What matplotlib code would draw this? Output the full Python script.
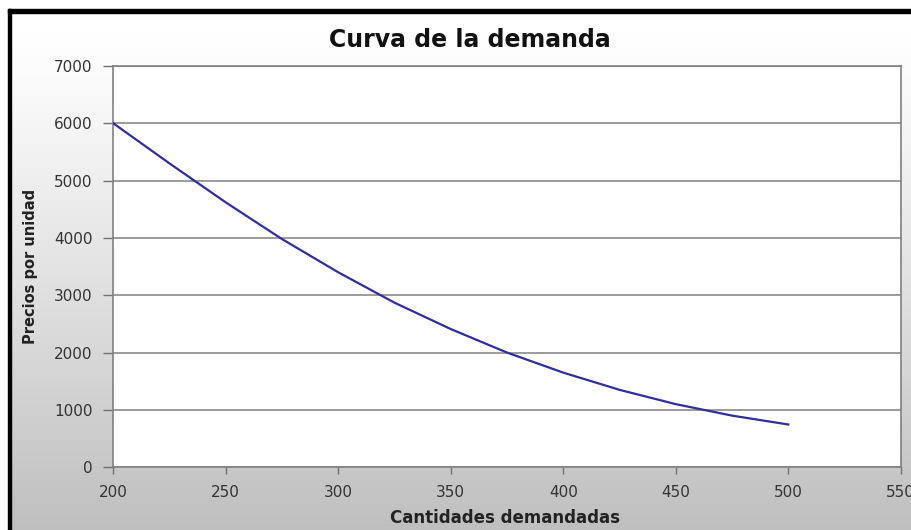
import numpy as np
import matplotlib
matplotlib.use("Agg")
import matplotlib.pyplot as plt
from matplotlib.patches import Rectangle

plt.rcParams['font.family'] = ['DejaVu Sans']

# demand curve
cantidades = [200, 225, 250, 275, 300, 325, 350, 375, 400, 425, 450, 475, 500]
precios = [6000, 5300, 4620, 3980, 3400, 2870, 2410, 2000, 1650, 1350, 1100, 900, 745]

x_ticks = [200, 250, 300, 350, 400, 450, 500, 550]
y_ticks = [0, 1000, 2000, 3000, 4000, 5000, 6000, 7000]

W, H = 912, 530
fig = plt.figure(figsize=(W / 100, H / 100), dpi=100)

# background: excel style gradient, white top -> grey bottom, black frame top/left
bg = fig.add_axes([0, 0, 1, 1], zorder=-10)
bg.set_xlim(0, W)
bg.set_ylim(H, 0)
bg.axis('off')
t = np.linspace(0, 1, 256).reshape(-1, 1)
shade = 1.0 - 0.25 * np.clip((t - 0.05) / 0.95, 0, 1) ** 1.1
grad = np.dstack([shade, shade, shade])
bg.imshow(grad, extent=[10, W, H, 10], aspect='auto', interpolation='bicubic')
bg.add_patch(Rectangle((0, 0), W, 9, color='white', zorder=1))
bg.add_patch(Rectangle((0, 0), 8, H, color='white', zorder=1))
bg.add_patch(Rectangle((8, 9), W, 3.5, color='black', zorder=2))
bg.add_patch(Rectangle((8, 9), 3.5, H, color='black', zorder=2))

ax = fig.add_axes([113.3 / W, 1 - 467.2 / H, 787.5 / W, 401.2 / H])
ax.set_facecolor('white')
ax.plot(cantidades, precios, color='#2e2e9c', lw=1.6, zorder=3)

ax.set_xlim(200, 550)
ax.set_ylim(0, 7000)
ax.set_xticks(x_ticks)
ax.set_yticks(y_ticks)
ax.tick_params(direction='out', width=1, color='#707070',
               labelsize=11, labelcolor='#333333')
ax.tick_params(axis='y', length=7, pad=8)
ax.tick_params(axis='x', length=5, pad=8)
ax.yaxis.grid(True, color='#808080', lw=1.1)
ax.set_axisbelow(True)
for s in ax.spines.values():
    s.set_color('#808080')
    s.set_linewidth(1.2)

fig.text(470 / W, 1 - 40 / H, "Curva de la demanda", fontsize=17,
         fontweight='bold', ha='center', va='center', color='#111111')
fig.text(505 / W, 1 - 518 / H, "Cantidades demandadas", fontsize=12,
         fontweight='bold', ha='center', va='center', color='#222222')
fig.text(31 / W, 1 - 266 / H, "Precios por unidad", fontsize=10.5,
         fontweight='bold', ha='center', va='center', rotation=90, color='#222222')

plt.savefig("out.png", dpi=100)
